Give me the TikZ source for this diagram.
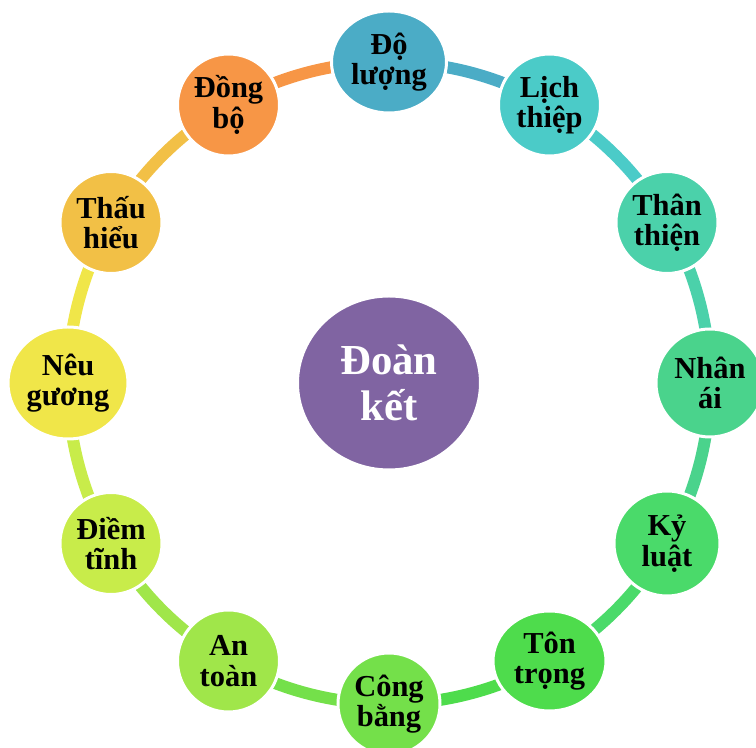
\documentclass[tikz,border=0pt]{standalone}
\usepackage{fontspec}
\setmainfont{Liberation Serif}
\usetikzlibrary{shapes.geometric,backgrounds}

\definecolor{cDo}{HTML}{4BACC6}
\definecolor{cLich}{HTML}{4BCBC8}
\definecolor{cThan}{HTML}{4BD1AA}
\definecolor{cNhan}{HTML}{4AD38C}
\definecolor{cKy}{HTML}{4ADA6A}
\definecolor{cTon}{HTML}{4EDC4C}
\definecolor{cCong}{HTML}{74E04A}
\definecolor{cAn}{HTML}{A0E64A}
\definecolor{cDiem}{HTML}{C8EC4A}
\definecolor{cNeu}{HTML}{F0E649}
\definecolor{cThau}{HTML}{F2C046}
\definecolor{cDong}{HTML}{F79646}
\definecolor{cDoan}{HTML}{8064A2}

\tikzset{
	bubble/.style={ellipse, draw=white, line width=0.09cm, minimum width=3.06cm, minimum height=3.06cm, inner sep=0pt, align=center, text=black, font=\fontsize{26}{26}\selectfont\bfseries},
	arcline/.style={line width=0.36cm}
}

\begin{document}
\begin{tikzpicture}
		\useasboundingbox (-11.67,-10.95) rectangle (11.01,11.49);
		% centre
		\node[bubble, fill=cDoan, text=white, minimum width=5.49cm, minimum height=5.22cm, font=\fontsize{36.5}{39}\selectfont\bfseries] (doan) at (0,0) {Đoàn\\kết};
		% vong ngoai
		\node[bubble, fill=cDo, minimum width=3.45cm] (do) at (90:9.63) {Độ\\lượng};
		\node[bubble, fill=cLich] (lich) at (60:9.63) {Lịch\\thiệp};
		\node[bubble, fill=cThan] (than) at (30:9.63) {Thân\\thiện};
		\node[bubble, fill=cNhan, minimum width=3.24cm, minimum height=3.24cm] (nhan) at (0:9.63) {Nhân\\ái};
		\node[bubble, fill=cKy, minimum width=3.18cm, minimum height=3.15cm] (ky) at (-30:9.63) {Kỷ\\luật};
		\node[bubble, fill=cTon, minimum width=3.39cm, minimum height=3.0cm] (ton) at (-60:9.63) {Tôn\\trọng};
		\node[bubble, fill=cCong] (cong) at (-90:9.63) {Công\\bằng};
		\node[bubble, fill=cAn] (an) at (-120:9.63) {An\\toàn};
		\node[bubble, fill=cDiem] (diem) at (-150:9.63) {Điềm\\tĩnh};
		\node[bubble, fill=cNeu, minimum width=3.6cm, minimum height=3.36cm] (neu) at (180:9.63) {Nêu\\gương};
		\node[bubble, fill=cThau] (thau) at (150:9.63) {Thấu\\hiểu};
		\node[bubble, fill=cDong] (dong) at (120:9.63) {Đồng\\bộ};
		\begin{pgfonlayer}{background}
			\draw[arcline, cDo] (do.center) to[bend left=15, looseness=0.87] (lich.center);
			\draw[arcline, cLich] (lich.center) to[bend left=15, looseness=0.87] (than.center);
			\draw[arcline, cThan] (than.center) to[bend left=15, looseness=0.87] (nhan.center);
			\draw[arcline, cNhan] (nhan.center) to[bend left=15, looseness=0.87] (ky.center);
			\draw[arcline, cKy] (ky.center) to[bend left=15, looseness=0.87] (ton.center);
			\draw[arcline, cTon] (ton.center) to[bend left=15, looseness=0.87] (cong.center);
			\draw[arcline, cCong] (cong.center) to[bend left=15, looseness=0.87] (an.center);
			\draw[arcline, cAn] (an.center) to[bend left=15, looseness=0.87] (diem.center);
			\draw[arcline, cDiem] (diem.center) to[bend left=15, looseness=0.87] (neu.center);
			\draw[arcline, cNeu] (neu.center) to[bend left=15, looseness=0.87] (thau.center);
			\draw[arcline, cThau] (thau.center) to[bend left=15, looseness=0.87] (dong.center);
			\draw[arcline, cDong] (dong.center) to[bend left=15, looseness=0.87] (do.center);
		\end{pgfonlayer}
\end{tikzpicture}
\end{document}
